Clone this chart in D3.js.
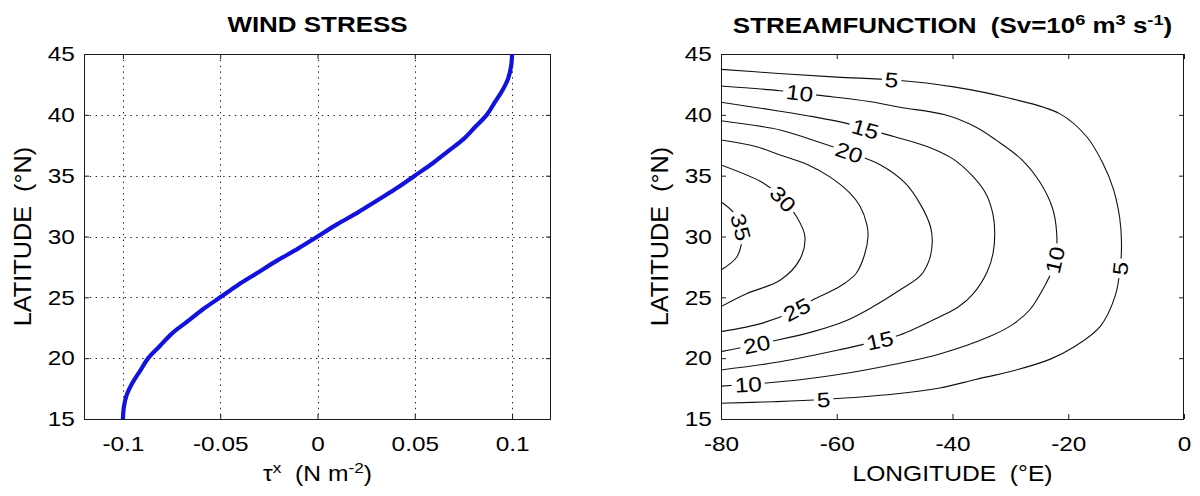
<!DOCTYPE html>
<html><head><meta charset="utf-8">
<script src="https://cdn.jsdelivr.net/npm/d3@7"></script>
<style>
body{margin:0;background:#fff}
svg{display:block}
</style>
</head><body>
<svg id="c" width="1200" height="496"></svg>
<script>
// ---------------- DATA ----------------
const latitudes = [15,16,17,18,19,20,21,22,23,24,25,26,27,28,29,30,31,32,33,34,35,36,37,38,39,40,41,42,43,44,45];
const windStress = [-0.100,-0.0995,-0.098,-0.095,-0.091,-0.087,-0.081,-0.075,-0.067,-0.059,-0.050,-0.041,-0.031,-0.021,-0.010,0.000,0.010,0.021,0.031,0.041,0.050,0.059,0.067,0.075,0.081,0.087,0.091,0.095,0.098,0.0995,0.100];

const tauTicks = [-0.1,-0.05,0,0.05,0.1];
const tauTickLabels = ["-0.1","-0.05","0","0.05","0.1"];
const latTicks = [15,20,25,30,35,40,45];
const latTickLabels = ["15","20","25","30","35","40","45"];
const lonTicks = [-80,-60,-40,-20,0];
const lonTickLabels = ["-80","-60","-40","-20","0"];

const contourLevels = [5,10,15,20,25,30,35];
// each contour: [lon, lat] points, from the western edge (north) round to the western edge (south)
const contour5 = [[-80,43.74],[-70,43.4],[-60,43.1],[-50,42.86],[-39.8,42.3],[-30.1,41.36],[-21.5,40.1],[-16.8,38.2],[-14,36.0],[-12.2,33.9],[-11.1,31.5],[-10.8,29.5],[-11.0,27.5],[-11.9,25.1],[-14.5,22.6],[-19.1,20.9],[-23.2,19.9],[-30,18.9],[-36,18.25],[-42.2,17.55],[-50,17.05],[-62.4,16.6],[-71,16.42],[-80,16.3]];
const contour10 = [[-80,42.37],[-69.8,41.98],[-62.9,41.6],[-54.4,41.1],[-49.1,40.62],[-41.3,40.0],[-36,39.0],[-32.4,37.9],[-28,36.3],[-24.8,34.4],[-22.7,32.3],[-22.0,30.3],[-22.1,28.6],[-23.0,27.0],[-24.0,26.0],[-26.6,24.0],[-29.5,22.8],[-33.5,21.8],[-42.2,20.35],[-50,19.5],[-58.3,18.76],[-66,18.25],[-72.7,17.94],[-80,17.7]];
const contour15 = [[-80,41.03],[-69.8,40.3],[-64.1,39.85],[-58.3,39.3],[-55.1,38.85],[-50,38.2],[-44.4,37.4],[-40,36.4],[-36.6,35.0],[-34.2,33.5],[-33.0,31.8],[-32.7,30.3],[-33.0,28.6],[-34.0,27.1],[-36.4,25.3],[-39,24.2],[-42.2,23.4],[-49.1,21.9],[-54,21.3],[-59.4,20.7],[-69.8,19.7],[-80,19.03]];
const contour20 = [[-80,39.52],[-69.8,38.76],[-64.6,38.0],[-58.4,37.0],[-52.5,35.9],[-48.2,34.4],[-45.5,32.6],[-43.8,30.8],[-43.5,29.5],[-44.0,28.1],[-45.5,26.8],[-49.1,25.6],[-53.7,24.24],[-58.3,23.1],[-64.1,22.18],[-71.5,21.36],[-80,20.54]];
const contour25 = [[-80,37.93],[-74,37.4],[-69.8,36.7],[-65,35.9],[-61.2,34.9],[-57.8,33.6],[-56,32.5],[-54.8,31.0],[-54.6,30.0],[-55.2,28.5],[-56.6,27.0],[-58.5,26.2],[-60.6,25.6],[-64.1,24.8],[-66.9,24.0],[-72.7,22.9],[-80,22.18]];
const contour30 = [[-80,35.88],[-72.7,34.4],[-69.5,33.2],[-66.9,31.6],[-65.5,30.0],[-66.4,28.1],[-69.8,26.4],[-75.6,25.3],[-80,24.24]];
const contour35 = [[-80,32.86],[-77.9,32.0],[-76.6,30.8],[-76.4,29.7],[-77.3,28.3],[-80,27.25]];
const contours = [contour5,contour10,contour15,contour20,contour25,contour30,contour35];

// contour labels: level, approx lon, approx lat
const labelLevels = [5,10,15,20,30,35,25,20,15,10,5,10,5];
const labelLon = [-50.5,-66.4,-55.1,-58.0,-69.5,-77.3,-66.9,-73.8,-52.5,-75.3,-62.3,-22.3,-11.1];
const labelLat = [42.86,41.77,38.76,36.7,33.0,30.68,23.96,20.95,21.36,17.66,16.7,28.07,27.4];

// ---------------- LAYOUT ----------------
const FONT = '"Liberation Sans", Arial, Helvetica, sans-serif';
const SX = 1.16;
const svg = d3.select("#c");
const defs = svg.append("defs");
const L = {x0:84, x1:551, y0:54, y1:419};
const R = {x0:721, x1:1184, y0:54, y1:419};

const xT = d3.scaleLinear().domain([-0.12,0.12]).range([L.x0,L.x1]);
const yL = d3.scaleLinear().domain([15,45]).range([L.y1,L.y0]);
const xLon = d3.scaleLinear().domain([-80,0]).range([R.x0,R.x1]);
const yR = d3.scaleLinear().domain([15,45]).range([R.y1,R.y0]);

function styleAxis(g){
  g.attr("font-size",21).attr("font-family",FONT);
  g.select(".domain").remove();
  g.selectAll(".tick line").attr("stroke","#1a1a1a").attr("stroke-width",1);
  g.selectAll(".tick text").attr("fill","#000");
}
function drawAxes(box, xs, ys, xVals, xLabs, yVals, yLabs){
  const b = svg.append("g").attr("transform",`translate(0,${box.y1})`)
    .call(d3.axisBottom(xs).tickValues(xVals).tickFormat((d,i)=>xLabs[i]).tickSize(-5).tickSizeOuter(0).tickPadding(17));
  styleAxis(b); b.selectAll(".tick text").attr("transform",`scale(${SX},1)`);
  const t = svg.append("g").attr("transform",`translate(0,${box.y0})`)
    .call(d3.axisTop(xs).tickValues(xVals).tickFormat("").tickSize(-5).tickSizeOuter(0));
  styleAxis(t);
  const l = svg.append("g").attr("transform",`translate(${box.x0},0)`)
    .call(d3.axisLeft(ys).tickValues(yVals).tickFormat((d,i)=>yLabs[i]).tickSize(-5).tickSizeOuter(0).tickPadding(8));
  styleAxis(l); l.selectAll(".tick text").attr("transform",`scale(${SX},1)`);
  const r = svg.append("g").attr("transform",`translate(${box.x1},0)`)
    .call(d3.axisRight(ys).tickValues(yVals).tickFormat("").tickSize(-5).tickSizeOuter(0));
  styleAxis(r);
  svg.append("rect").attr("x",box.x0+0.5).attr("y",box.y0+0.5)
    .attr("width",box.x1-box.x0-1).attr("height",box.y1-box.y0)
    .attr("fill","none").attr("stroke","#1a1a1a").attr("stroke-width",1);
}

// ---------------- LEFT: WIND STRESS ----------------
const gridG = svg.append("g").attr("stroke","#222").attr("stroke-width",1).attr("stroke-dasharray","1.4,4.4");
tauTicks.forEach(v=>{
  gridG.append("line").attr("x1",Math.round(xT(v))+0.5).attr("x2",Math.round(xT(v))+0.5).attr("y1",L.y0).attr("y2",L.y1);
});
latTicks.filter(v=>v>15&&v<45).forEach(v=>{
  gridG.append("line").attr("y1",Math.round(yL(v))+0.5).attr("y2",Math.round(yL(v))+0.5).attr("x1",L.x0).attr("x2",L.x1);
});
drawAxes(L, xT, yL, tauTicks, tauTickLabels, latTicks, latTickLabels);

svg.append("path")
  .datum(latitudes.map((lat,i)=>[windStress[i],lat]))
  .attr("fill","none").attr("stroke","#1212dc").attr("stroke-width",4.2)
  .attr("stroke-linejoin","round")
  .attr("d", d3.line().x(d=>xT(d[0])).y(d=>yL(d[1])).curve(d3.curveCatmullRom.alpha(0.5)));

// ---------------- RIGHT: STREAMFUNCTION ----------------
drawAxes(R, xLon, yR, lonTicks, lonTickLabels, latTicks, latTickLabels);
defs.append("clipPath").attr("id","clipR").append("rect")
  .attr("x",R.x0).attr("y",R.y0).attr("width",R.x1-R.x0).attr("height",R.y1-R.y0);

const cLine = d3.line().x(d=>xLon(d[0])).y(d=>yR(d[1])).curve(d3.curveCatmullRom.alpha(0.5));
const cG = svg.append("g").attr("clip-path","url(#clipR)");
const paths = {};
contourLevels.forEach((lev,i)=>{
  paths[lev] = cG.append("path").datum(contours[i])
    .attr("fill","none").attr("stroke","#111").attr("stroke-width",1.1)
    .attr("d", cLine).attr("mask",`url(#m${lev})`);
});

// masks (gaps where labels sit)
const masks = {};
contourLevels.forEach(lev=>{
  const m = defs.append("mask").attr("id",`m${lev}`).attr("maskUnits","userSpaceOnUse")
    .attr("x",0).attr("y",0).attr("width",1200).attr("height",496);
  m.append("rect").attr("x",0).attr("y",0).attr("width",1200).attr("height",496).attr("fill","#fff");
  masks[lev] = m;
});

const labG = svg.append("g");
labelLevels.forEach((lev,i)=>{
  const node = paths[lev].node();
  const tot = node.getTotalLength();
  const px = xLon(labelLon[i]), py = yR(labelLat[i]);
  let best = 0, bd = Infinity;
  for(let s=0;s<=tot;s+=0.5){
    const p = node.getPointAtLength(s);
    const d = (p.x-px)*(p.x-px)+(p.y-py)*(p.y-py);
    if(d<bd){bd=d;best=s;}
  }
  const p = node.getPointAtLength(best);
  const pa = node.getPointAtLength(Math.max(0,best-6));
  const pb = node.getPointAtLength(Math.min(tot,best+6));
  let ang = Math.atan2(pb.y-pa.y, pb.x-pa.x)*180/Math.PI;
  if(ang>90) ang-=180;
  if(ang<=-90) ang+=180;
  const g = labG.append("g").attr("transform",`translate(${p.x},${p.y}) rotate(${ang})`);
  const t = g.append("text").text(lev).attr("text-anchor","middle")
    .attr("dy","0.36em").attr("font-family",FONT).attr("font-size",21).attr("fill","#000")
    .attr("transform",`scale(${SX},1)`);
  const w = t.node().getBBox().width*SX + 6;
  masks[lev].append("rect").attr("x",-w/2).attr("y",-8).attr("width",w).attr("height",16)
    .attr("fill","#000").attr("transform",`translate(${p.x},${p.y}) rotate(${ang})`);
});

// ---------------- TITLES & AXIS LABELS ----------------
function sup(t, s){ t.append("tspan").attr("dy",-8).attr("font-size","70%").text(s); }
function back(t, s){ t.append("tspan").attr("dy",8).text(s); }

const t1 = svg.append("g").attr("transform",`translate(${(L.x0+L.x1)/2},32)`)
  .append("text").attr("text-anchor","middle").attr("font-family",FONT).attr("font-weight","bold")
  .attr("font-size",22).attr("transform","scale(1.18,1)").text("WIND STRESS");

const t2 = svg.append("g").attr("transform",`translate(${(R.x0+R.x1)/2},33)`)
  .append("text").attr("text-anchor","middle").attr("font-family",FONT).attr("font-weight","bold")
  .attr("font-size",22).attr("transform","scale(1.18,1)");
t2.append("tspan").text("STREAMFUNCTION\u00a0\u00a0(Sv=10");
sup(t2,"6"); back(t2,"\u00a0m"); sup(t2,"3"); back(t2,"\u00a0s"); sup(t2,"-1"); back(t2,")");

const xl1 = svg.append("g").attr("transform",`translate(${(L.x0+L.x1)/2},481)`)
  .append("text").attr("text-anchor","middle").attr("font-family",FONT)
  .attr("font-size",22).attr("transform","scale(1.12,1)");
xl1.append("tspan").text("\u03c4");
sup(xl1,"x"); back(xl1,"\u00a0\u00a0(N\u00a0m"); sup(xl1,"-2"); back(xl1,")");

svg.append("g").attr("transform",`translate(${(R.x0+R.x1)/2},481)`)
  .append("text").attr("text-anchor","middle").attr("font-family",FONT)
  .attr("font-size",22).attr("transform","scale(1.12,1)").text("LONGITUDE\u00a0\u00a0(\u00b0E)");

[L,R].forEach(box=>{
  svg.append("g").attr("transform",`translate(${box.x0-61},${(box.y0+box.y1)/2}) rotate(-90)`)
    .append("text").attr("text-anchor","middle").attr("dy","0.36em").attr("font-family",FONT)
    .attr("font-size",23).attr("transform","scale(1.1,1)").text("LATITUDE\u00a0\u00a0(\u00b0N)");
});
</script>
</body></html>
